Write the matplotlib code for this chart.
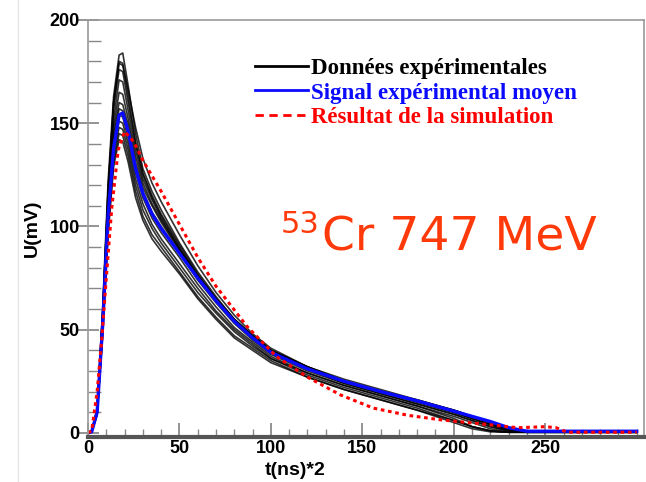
import matplotlib
matplotlib.use("Agg")
import matplotlib.pyplot as plt
from matplotlib.lines import Line2D
import numpy as np

# common time grid (t in ns*2) for the individual experimental traces
t_grid = [0, 2, 5, 8, 11, 14, 17, 19, 22, 26, 30, 35, 40, 50, 60, 70, 80, 90,
          100, 120, 140, 160, 180, 200, 210, 220, 230, 240, 300]

# individual experimental traces (black), U in mV
traces = [
    [0, 0.5, 12, 60, 122, 163, 183, 184, 168, 145, 128, 117, 108, 92, 78, 66, 55, 47, 40, 31, 24, 19, 14, 9, 6, 3, 1, 0.3, 0.3],
    [0, 0.5, 11, 58, 118, 160, 180, 179, 163, 141, 126, 115, 106, 91, 77, 65, 55, 47, 40, 32, 25, 20, 15, 10, 7, 4, 1.5, 0.5, 0.5],
    [0, 0.5, 11, 57, 116, 157, 176, 175, 160, 140, 125, 114, 105, 90, 76, 64, 54, 46, 39, 31, 25, 20, 15.5, 11, 8, 5, 2, 0.5, 0.5],
    [0, 0.5, 11, 56, 113, 152, 171, 170, 156, 137, 123, 113, 104, 89, 76, 65, 55, 47, 40, 32, 26, 21, 16, 11, 8, 5, 2, 0.5, 0.5],
    [0, 0.5, 10, 55, 110, 148, 165, 164, 152, 134, 121, 111, 103, 89, 76, 65, 55, 47, 40, 32, 25, 20, 15, 10, 7, 4, 1.5, 0.5, 0.5],
    [0, 0.5, 10, 54, 108, 145, 160, 159, 149, 131, 119, 110, 102, 88, 75, 64, 54, 46, 39, 31, 25, 20, 16, 11, 8, 5, 2, 0.5, 0.5],
    [0, 0.5, 10, 53, 106, 142, 157, 156, 146, 129, 117, 107, 100, 87, 74, 63, 53, 45, 38, 30, 24, 19, 14, 9, 6, 3, 1, 0.3, 0.3],
    [0, 0.5, 10, 52, 104, 140, 154, 153, 143, 126, 114, 104, 97, 85, 72, 61, 51, 44, 37, 29, 23, 18, 13, 8, 5, 2, 0.5, 0.3, 0.3],
    [0, 0.5, 9, 50, 102, 137, 151, 150, 140, 123, 111, 101, 94, 82, 70, 59, 50, 43, 36, 29, 23, 18, 13, 7, 3, 1, 0.3, 0.3, 0.3],
    [0, 0.5, 9, 49, 100, 134, 148, 147, 137, 120, 108, 99, 92, 80, 68, 58, 49, 42, 36, 28, 22, 17, 12, 6, 3, 1, 0.3, 0.3, 0.3],
    [0, 0.5, 9, 48, 98, 131, 145, 144, 134, 117, 105, 96, 90, 78, 66, 56, 47, 41, 35, 27, 21, 16, 11, 5, 2, 0.5, 0.3, 0.3, 0.3],
    [0, 0.5, 9, 47, 96, 129, 142, 141, 131, 114, 103, 94, 88, 77, 65, 55, 46, 40, 34, 27, 21, 16, 11, 6, 3, 1, 0.3, 0.3, 0.3],
    [0, 0.5, 11, 58, 118, 160, 179, 178, 166, 148, 133, 121, 112, 96, 81, 68, 57, 48, 41, 32, 25, 20, 15, 10, 7, 4, 1.5, 0.5, 0.5],
]

# mean experimental signal (blue)
mean_t = [0, 2, 5, 8, 11, 14, 17, 19, 22, 26, 30, 35, 40, 50, 60, 70, 80, 90,
          100, 120, 140, 160, 180, 200, 210, 220, 230, 240, 300]
mean_u = [0, 0.5, 10, 52, 105, 138, 154, 155, 146, 128, 116, 106, 99, 87, 75, 64, 54, 46,
          39, 31, 25, 20, 15.5, 10.5, 8, 5.5, 2.5, 0.8, 0.8]

# simulation result (red dotted)
sim_t = [0, 2, 5, 7.5, 10, 13, 16.5, 20, 25, 30, 40, 50, 60, 70, 87, 103, 120, 138,
         156, 175, 193, 220, 235, 250, 256, 262, 300]
sim_u = [0, 1, 20, 45, 75, 109, 137, 146, 141, 132, 117, 101, 85, 71, 51.5, 37, 27, 18.4,
         12, 8.5, 6.3, 3.9, 2.5, 3, 2.5, 0.3, 0.3]

labels = ["Données expérimentales", "Signal expérimental moyen", "Résultat de la simulation"]

fig = plt.figure(figsize=(6.46, 4.82), dpi=100)
ax = fig.add_axes([88 / 646, 1 - 437 / 482, (644 - 88) / 646, (437 - 20) / 482])

for u in traces:
    ax.plot(t_grid, u, color="black", lw=1.2, alpha=0.8)
ax.plot(mean_t, mean_u, color="#0a0aff", lw=2.4)
ax.plot(sim_t, sim_u, color="red", lw=2.2, linestyle=(0, (1.2, 1.2)))

ax.set_xlim(0, 304)
ax.set_ylim(-2, 200)
ax.set_xticks([0, 50, 100, 150, 200, 250])
ax.set_xticks(np.arange(0, 301, 10), minor=True)
ax.set_yticks([0, 50, 100, 150, 200])
ax.set_yticks(np.arange(0, 201, 10), minor=True)

ax.tick_params(axis="both", which="major", labelsize=13, color="#777777")
ax.tick_params(axis="y", which="major", direction="inout", length=16, width=1.1, pad=-2)
ax.tick_params(axis="y", which="minor", direction="in", length=9, width=1, color="#888888")
ax.tick_params(axis="x", which="major", direction="in", length=10, width=1.1, pad=2)
ax.tick_params(axis="x", which="minor", direction="in", length=6, width=1, color="#888888")
for lab in ax.get_xticklabels() + ax.get_yticklabels():
    lab.set_fontweight("bold")
    lab.set_family("Liberation Sans")

for side in ["top", "right", "left"]:
    ax.spines[side].set_color("#999999")
    ax.spines[side].set_linewidth(1.2)
ax.spines["bottom"].set_color("#555555")
ax.spines["bottom"].set_linewidth(3)

ax.set_xlabel("t(ns)*2", fontsize=14, fontweight="bold", family="Liberation Sans")
ax.xaxis.set_label_coords((295 - 88) / 556, -0.06)
ax.set_ylabel("U(mV)", fontsize=14, fontweight="bold", family="Liberation Sans")
ax.yaxis.set_label_coords(-0.085, 0.5)

handles = [
    Line2D([], [], color="black", lw=2),
    Line2D([], [], color="#0a0aff", lw=2),
    Line2D([], [], color="red", lw=2, linestyle=(0, (3, 2))),
]
ax.legend(handles, labels, loc="upper left", bbox_to_anchor=((255 - 88) / 556, 0.91),
          frameon=False, borderpad=0, borderaxespad=0, handlelength=2.3,
          handletextpad=0.15, labelspacing=0.17,
          labelcolor=["black", "#0a0aff", "red"],
          prop=dict(family="Liberation Serif", weight="bold", size=16.5))

# isotope / energy annotation
fig.text(281 / 646, 1 - 233 / 482, "53", color="#ff3a0a", fontsize=22, va="baseline", ha="left")
fig.text(322 / 646, 1 - 250 / 482, "Cr 747 MeV", color="#ff3a0a", fontsize=34,
         va="baseline", ha="left")

fig.add_artist(Line2D([18 / 646, 18 / 646], [0, 1], color="#e6e6e6", lw=1))

fig.savefig("out.png")
